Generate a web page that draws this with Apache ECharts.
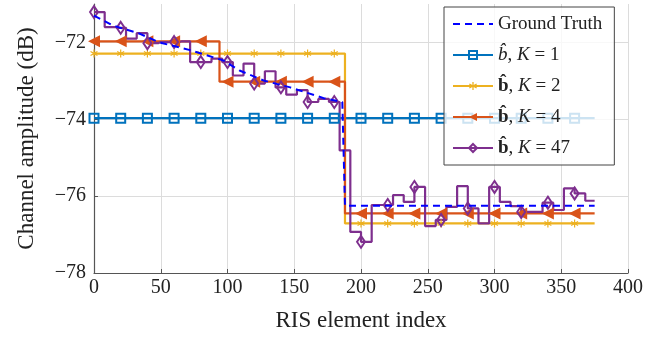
<!DOCTYPE html>
<html>
<head>
<meta charset="utf-8">
<script src="https://cdn.jsdelivr.net/npm/echarts@6/dist/echarts.min.js"></script>
<style>
  html, body { margin: 0; padding: 0; background: #fff; }
  #chart { width: 668px; height: 337px; }
</style>
</head>
<body>
<div id="chart"></div>
<script>
// RIS elements 0..375
const numElements = 376
const markEvery = 20

// ground truth (dashed) read at a few element indices
const gtIndex = [0, 14, 34, 49, 72, 97, 109, 127, 147, 172, 186, 188, 375]
const gtValue = [-71.3, -71.56, -71.77, -72.0, -72.2, -72.47, -72.73, -72.99, -73.17, -73.45, -73.55, -76.25, -76.25]

// piecewise constant estimates, one value per group of elements
const k1Value = [-73.97]
const k2Value = [-72.29, -76.71]
const k4Value = [-71.97, -73.02, -76.45, -76.45]
const k47Value = [
  -71.21, -71.6, -71.62, -71.9, -71.76, -72.02, -71.99, -71.99, -71.97, -72.51,
  -72.51, -72.42, -72.51, -72.86, -72.55, -73.07, -72.75, -73.17, -73.36, -73.24,
  -73.55, -73.47, -73.55, -74.81, -76.93, -77.19, -76.23, -76.23, -75.97, -76.15,
  -75.76, -76.78, -76.62, -76.28, -75.74, -76.32, -76.71, -75.76, -76.15, -76.26,
  -76.41, -76.41, -76.17, -76.36, -75.8, -75.93, -76.12
]

const serif = "'Liberation Serif', 'DejaVu Serif', serif"

// repeat each group value over its elements
function expand(vals) {
  const len = numElements / vals.length
  const out = []
  for (let i = 0; i < numElements; i++) {
    out.push([i, vals[Math.floor(i / len)]])
  }
  return out
}

function markSize(size) {
  return function (val, params) {
    return params.dataIndex % markEvery === 0 ? size : 0
  }
}

function stepSeries(name, vals, color, symbol, size, extra) {
  return Object.assign({
    name: name,
    type: 'line',
    step: 'end',
    data: expand(vals),
    symbol: symbol,
    symbolSize: markSize(size),
    showAllSymbol: true,
    lineStyle: { color: color, width: 2.2 },
    itemStyle: { color: 'rgba(0,0,0,0)', borderColor: color, borderWidth: 2 },
    emphasis: { disabled: true },
    animation: false
  }, extra || {})
}

const asterisk = 'path://M-0.15,-1L0.15,-1L0.15,1L-0.15,1Z' +
  'M0.791,-0.63L0.941,-0.37L-0.791,0.63L-0.941,0.37Z' +
  'M-0.941,-0.37L-0.791,-0.63L0.941,0.37L0.791,0.63Z'

const legendNames = {
  gt: 'Ground Truth',
  k1: '{bi|b\u0302}, {i|K} = 1',
  k2: '{bb|b\u0302}, {i|K} = 2',
  k4: '{bb|b\u0302}, {i|K} = 4',
  k47: '{bb|b\u0302}, {i|K} = 47'
}

const gridColor = '#dcdcdc'

const chart = echarts.init(document.getElementById('chart'))
chart.setOption({
  animation: false,
  grid: { left: 94, right: 40, top: 4, bottom: 64 },
  xAxis: {
    type: 'value',
    min: 0, max: 400, interval: 50,
    name: 'RIS element index',
    nameLocation: 'middle',
    nameGap: 36,
    nameTextStyle: { fontFamily: serif, fontSize: 23, color: '#222' },
    axisLine: { lineStyle: { color: '#555', width: 1.2 } },
    axisTick: { inside: true, length: 4, lineStyle: { color: '#555' } },
    axisLabel: { fontFamily: serif, fontSize: 20, color: '#222', margin: 5 },
    splitLine: { show: true, lineStyle: { color: gridColor, width: 1 } }
  },
  yAxis: {
    type: 'value',
    min: -78, max: -71, interval: 2,
    name: 'Channel amplitude (dB)',
    nameLocation: 'middle',
    nameGap: 56,
    nameTextStyle: { fontFamily: serif, fontSize: 23, color: '#222' },
    axisLine: { show: true, lineStyle: { color: '#555', width: 1.2 } },
    axisTick: { show: true, inside: true, length: 4, lineStyle: { color: '#555' } },
    axisLabel: {
      fontFamily: serif, fontSize: 20, color: '#222', margin: 8,
      showMaxLabel: false,
      formatter: v => String(v).replace('-', '\u2212')
    },
    // no grid line at the top edge (-71)
    splitLine: { show: true, lineStyle: { color: [gridColor, gridColor, gridColor, gridColor, 'rgba(0,0,0,0)'], width: 1 } }
  },
  legend: {
    orient: 'vertical',
    left: 444, top: 7,
    padding: [6, 12, 6, 8],
    itemWidth: 40, itemHeight: 10, itemGap: 9,
    backgroundColor: 'rgba(255,255,255,0.8)',
    borderColor: '#444', borderWidth: 1,
    data: ['gt', 'k1', 'k2', 'k4', 'k47'],
    formatter: name => legendNames[name],
    textStyle: {
      fontFamily: serif, fontSize: 19, color: '#222', lineHeight: 22,
      rich: {
        i: { fontFamily: serif, fontStyle: 'italic', fontSize: 19, color: '#222' },
        bi: { fontFamily: serif, fontStyle: 'italic', fontSize: 19, color: '#222' },
        bb: { fontFamily: serif, fontWeight: 'bold', fontSize: 19, color: '#222' }
      }
    }
  },
  series: [
    {
      name: 'gt',
      type: 'line',
      data: gtIndex.map((x, i) => [x, gtValue[i]]),
      symbol: 'circle',
      symbolSize: 0,
      z: 5,
      lineStyle: { color: '#0000ff', width: 2, type: [7, 5] },
      itemStyle: { color: 'rgba(0,0,0,0)' },
      emphasis: { disabled: true }
    },
    stepSeries('k1', k1Value, '#0072BD', 'rect', 9),
    stepSeries('k2', k2Value, '#EDB120', asterisk, 8, {
      itemStyle: { color: '#EDB120' }, symbolKeepAspect: true
    }),
    stepSeries('k4', k4Value, '#D95319', 'triangle', 12, {
      itemStyle: { color: '#D95319' }, symbolRotate: 90
    }),
    stepSeries('k47', k47Value, '#7E2F8E', 'diamond', [8, 12])
  ]
})
</script>
</body>
</html>
